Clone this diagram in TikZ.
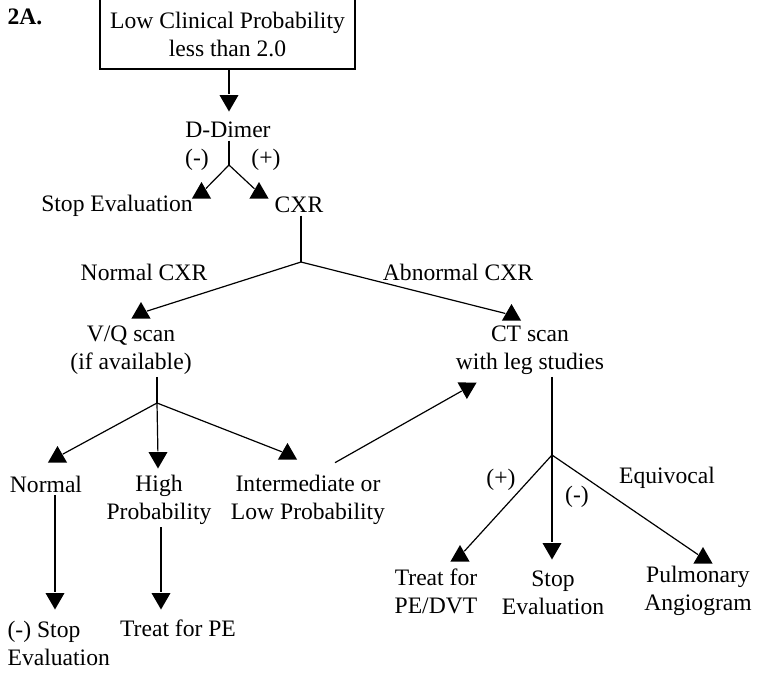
\documentclass[tikz,border=0pt]{standalone}
\usepackage{fontspec}
\setmainfont{Liberation Serif}
\usetikzlibrary{shapes}
\tikzset{txt/.style={align=center,inner sep=1pt}}
\tikzset{up/.style={regular polygon,regular polygon sides=3,fill,inner sep=0pt,minimum size=11pt}}
\tikzset{dn/.style={up,shape border rotate=180}}

\begin{document}
\begin{tikzpicture}[x=0.5pt,y=-0.5pt,line width=0.6pt,font=\fontsize{11.8}{14}\selectfont]
    \useasboundingbox (0,0) rectangle (757,677);

    \node[txt,anchor=west] (lab)at (5,17) {\textbf{2A.}};
    \node[txt,draw,minimum width=127.5pt,minimum height=35pt] (box)at (227.5,34) {Low Clinical Probability\\less than 2.0};
    \node[txt] (dd)at (228,130) {D-Dimer};
    \node[txt] (neg1)at (197,160) {(-)};
    \node[txt] (pos1)at (266,160) {(+)};
    \node[txt] (stop1)at (117,206) {Stop Evaluation};
    \node[txt] (cxr)at (299,205) {CXR};
    \node[txt] (ncxr)at (144,272) {Normal CXR};
    \node[txt] (acxr)at (458,272) {Abnormal CXR};
    \node[txt] (vq)at (131,350) {V/Q scan\\(if available)};
    \node[txt] (ct)at (530,350) {CT scan\\with leg studies};
    \node[txt] (norm)at (46,484) {Normal};
    \node[txt] (high)at (159,500) {High\\Probability};
    \node[txt] (inter)at (308,500) {Intermediate or\\Low Probability};
    \node[txt,align=left,anchor=west] (stop2)at (5,643) {(-) Stop\\Evaluation};
    \node[txt] (treat1)at (178,628) {Treat for PE};
    \node[txt] (pos2)at (501,480) {(+)};
    \node[txt] (neg2)at (577,497) {(-)};
    \node[txt] (equi)at (667,478) {Equivocal};
    \node[txt] (treat2)at (436,591) {Treat for\\PE/DVT};
    \node[txt] (stop3)at (553,593) {Stop\\Evaluation};
    \node[txt] (pulm)at (698,591) {Pulmonary\\Angiogram};

    % branch points
    \coordinate (f1) at (229,165);
    \coordinate (f2) at (301,262);
    \coordinate (f3) at (157,403);
    \coordinate (f4) at (552,455);

    % arrow heads
    \node[dn] (tdd)at (229,100.5) {};
    \node[up] (tsl)at (201.5,193) {};
    \node[up] (tcx)at (259,193) {};
    \node[up] (tvq)at (141,313) {};
    \node[up] (tct)at (511.5,315) {};
    \node[up] (tno)at (57.5,457) {};
    \node[dn] (thi)at (158,457.5) {};
    \node[up] (tin)at (287.5,454) {};
    \node[dn] (tse)at (55,598.5) {};
    \node[dn] (ttp)at (161,598.5) {};
    \node[up,shape border rotate=-60.6] (tint)at (467,388) {};
    \node[up] (ttr)at (460,556) {};
    \node[dn] (tst)at (552,548.5) {};
    \node[up] (tpa)at (703,558) {};

    \draw [] (box.south -| tdd) to [] (tdd);
    \draw [] (dd.south -| f1) to [] (f1);
    \draw [] (f1) to [] (tsl);
    \draw [] (f1) to [] (tcx);
    \draw [] (cxr.south -| f2) to [] (f2);
    \draw [] (f2) to [] (tvq);
    \draw [] (f2) to [] (tct);
    \draw [] (vq.south -| f3) to [] (f3);
    \draw [] (f3) to [] (tno);
    \draw [] (f3) to [] (thi);
    \draw [] (f3) to [] (tin);
    \draw [] (norm.south -| tse) to [] (tse);
    \draw [] (high.south -| ttp) to [] (ttp);
    \draw [] ([shift={(13.5pt,5pt)}]inter.north) to [] (tint);
    \draw [] (ct.south -| f4) to [] (f4);
    \draw [] (f4) to [] (ttr);
    \draw [] (f4) to [] (tst);
    \draw [] (f4) to [] (tpa);
\end{tikzpicture}
\end{document}
